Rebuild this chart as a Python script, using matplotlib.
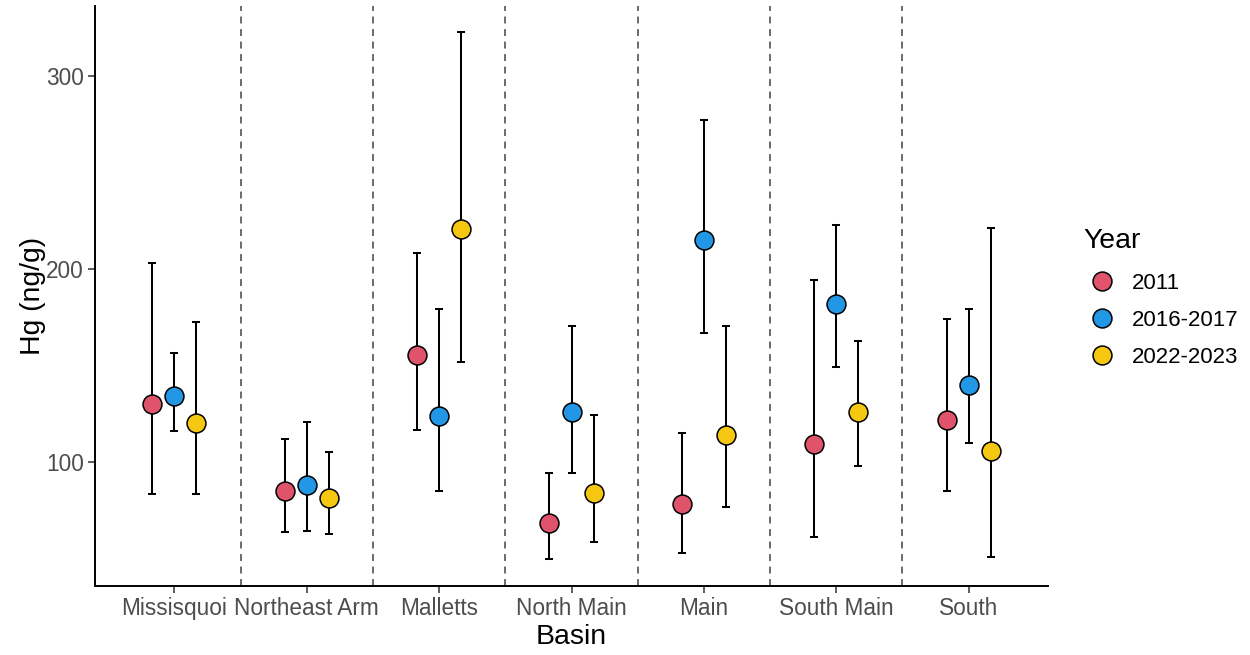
import matplotlib
matplotlib.use("Agg")
import matplotlib.pyplot as plt
from matplotlib.lines import Line2D
import numpy as np

plt.rcParams['font.family'] = ['Liberation Sans', 'DejaVu Sans']
plt.rcParams['lines.scale_dashes'] = False

basins = ["Missisquoi", "Northeast Arm", "Malletts", "North Main", "Main", "South Main", "South"]
years = ["2011", "2016-2017", "2022-2023"]
colors = ["#DF536B", "#2297E6", "#F5C710"]

mean_2011 = [130.1, 84.7, 155.6, 68.1, 78.2, 109.1, 121.6]
lo_2011 = [83.4, 63.8, 116.4, 49.6, 52.9, 61.2, 85.1]
hi_2011 = [203.1, 112.1, 208.4, 94.2, 115.2, 194.5, 174.4]

mean_2016 = [134.3, 88.0, 123.7, 126.1, 215.0, 182.1, 140.1]
lo_2016 = [115.9, 64.3, 85.0, 94.2, 167.0, 149.1, 110.0]
hi_2016 = [156.6, 120.8, 179.5, 170.3, 277.1, 222.7, 179.3]

mean_2022 = [120.0, 81.1, 220.7, 84.1, 114.2, 126.0, 105.5]
lo_2022 = [83.4, 62.6, 151.9, 58.4, 76.4, 98.1, 50.5]
hi_2022 = [172.5, 105.2, 322.8, 124.1, 170.6, 162.6, 221.3]

means = [mean_2011, mean_2016, mean_2022]
los = [lo_2011, lo_2016, lo_2022]
his = [hi_2011, hi_2016, hi_2022]

W, H = 1250, 655
fig = plt.figure(figsize=(W / 100, H / 100), dpi=100)
ax = fig.add_axes([95 / W, 1 - 585.5 / H, (1048 - 95) / W, (585.5 - 6) / H])

x = np.arange(len(basins))
dodge = 0.5
offsets = [-dodge / 3, 0, dodge / 3]

# dashed separators
for b in np.arange(len(basins) - 1) + 0.5:
    ax.axvline(b, color="#5F5F5F", lw=1.3, dashes=(5.0, 4.0), zorder=1)

handles = []
for i, yr in enumerate(years):
    m = np.array(means[i]); lo = np.array(los[i]); hi = np.array(his[i])
    xi = x + offsets[i]
    ax.errorbar(xi, m, yerr=[m - lo, hi - m], fmt="none", ecolor="black",
                elinewidth=1.45, capsize=3.2, capthick=1.45, zorder=2)
    ax.plot(xi, m, "o", ms=13.6, mfc=colors[i], mec="black", mew=1.1, zorder=3)
    handles.append(Line2D([], [], ls="none", marker="o", ms=13.6, mfc=colors[i],
                          mec="black", mew=1.1, label=yr))

allv = np.concatenate([np.array(l) for l in los] + [np.array(h) for h in his])
lo_, hi_ = allv.min(), allv.max()
pad = 0.05 * (hi_ - lo_)
ax.set_ylim(lo_ - pad, hi_ + pad)
ax.set_xlim(-0.6, len(basins) - 1 + 0.6)

ax.set_xticks(x)
ax.set_xticklabels(basins)
ax.set_yticks([100, 200, 300])
ax.tick_params(axis="both", labelsize=16.3, labelcolor="#4D4D4D", color="#333333",
               length=5, width=1.1)
ax.tick_params(axis="x", pad=3)
ax.tick_params(axis="y", pad=3)
for s in ["top", "right"]:
    ax.spines[s].set_visible(False)
for s in ["left", "bottom"]:
    ax.spines[s].set_linewidth(1.4)
    ax.spines[s].set_color("black")

fig.text(33 / W, 1 - 296 / H, "Hg (ng/g)", rotation=90, ha="center", va="center",
         fontsize=20.4, color="black")
fig.text(571 / W, 1 - 637 / H, "Basin", ha="center", va="center", fontsize=20.4,
         color="black")

# legend
fig.text(1083 / W, 1 - 241 / H, "Year", ha="left", va="center", fontsize=20.4,
         color="black")
leg = fig.legend(handles=handles, loc="upper left",
                 bbox_to_anchor=(1083 / W, 1 - 273 / H), frameon=False,
                 fontsize=16, handlelength=1.7,
                 handletextpad=0.5, labelspacing=0.72,
                 borderaxespad=0, borderpad=0)

fig.savefig("out.png", dpi=100)
